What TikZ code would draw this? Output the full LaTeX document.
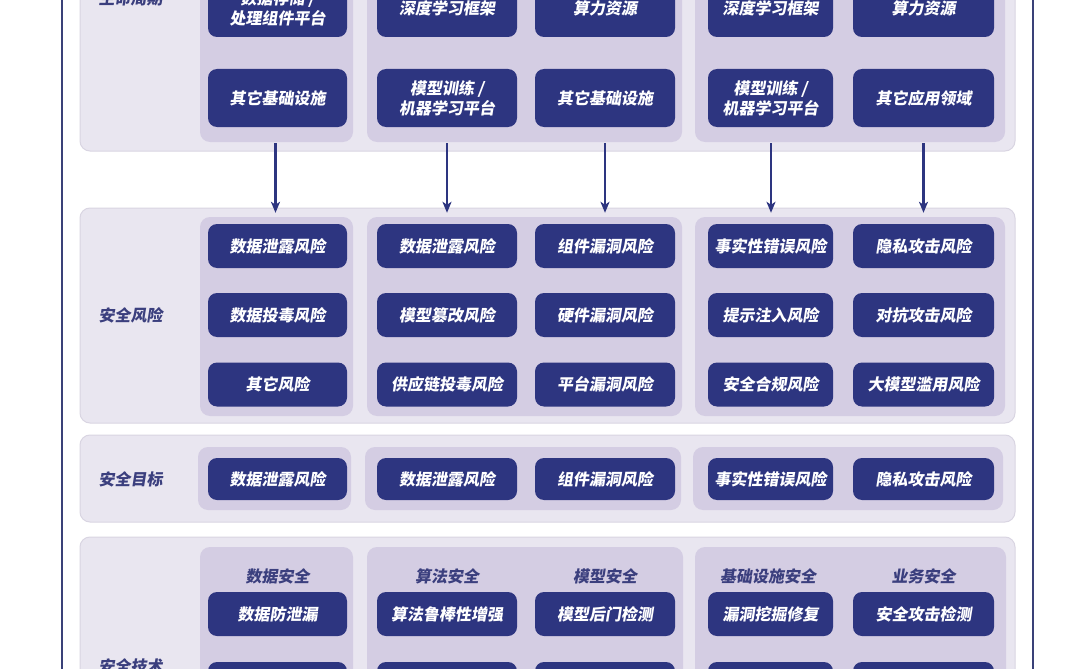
\documentclass[tikz,border=0pt]{standalone}
\usepackage{fontspec}
\setmainfont{Noto Sans CJK SC}[FakeSlant=0.16]
\usetikzlibrary{arrows.meta}
\definecolor{navy}{HTML}{2D3580}
\definecolor{bandfill}{HTML}{E9E6F0}
\definecolor{bandline}{HTML}{D9D5E2}
\definecolor{colfill}{HTML}{D4CDE3}
\definecolor{labtext}{HTML}{3B3F7E}
\definecolor{framecol}{HTML}{3A4178}
\tikzset{
  band/.style={fill=bandfill,draw=bandline,line width=1pt,rounded corners=10pt},
  colbox/.style={fill=colfill,draw=none,rounded corners=10pt},
  nd/.style={fill=navy,draw=none,rounded corners=9pt,text=white,align=center,
    font=\fontsize{16}{20}\selectfont\bfseries,inner sep=0pt},
  lab/.style={text=labtext,font=\fontsize{16}{20}\selectfont\bfseries,inner sep=0pt},
  arr/.style={draw=navy,line width=2.3pt,-{Stealth[length=11pt,width=9pt,inset=3pt]}}
}
\begin{document}
\begin{tikzpicture}[x=1pt,y=-1pt]
\useasboundingbox (0,0) rectangle (1080,669);
\clip (0,0) rectangle (1080,669);
\fill[white] (0,0) rectangle (1080,669);
% outer frame lines
\draw[framecol,line width=2pt] (62,-50) -- (62,720);
\draw[framecol,line width=2pt] (1033,-50) -- (1033,720);

% ---------- band 1 : lifecycle ----------
\draw[band] (80,-200) rectangle (1015,151);
\fill[colbox] (200,-190) rectangle (353,142);
\fill[colbox] (367,-190) rectangle (682,142);
\fill[colbox] (695,-190) rectangle (1005,142);
\node[lab] (l1) at (130.5,-2) {生命周期};
\node[nd,minimum width=139pt,minimum height=58pt] (a1) at (277.5,8) {数据存储 /\\处理组件平台};
\node[nd,minimum width=140pt,minimum height=58pt] (a2) at (447,8) {深度学习框架};
\node[nd,minimum width=140pt,minimum height=58pt] (a3) at (605,8) {算力资源};
\node[nd,minimum width=125pt,minimum height=58pt] (a4) at (770.5,8) {深度学习框架};
\node[nd,minimum width=141pt,minimum height=58pt] (a5) at (923.5,8) {算力资源};
\node[nd,minimum width=139pt,minimum height=58pt] (b1) at (277.5,98) {其它基础设施};
\node[nd,minimum width=140pt,minimum height=58pt] (b2) at (447,98) {模型训练 /\\机器学习平台};
\node[nd,minimum width=140pt,minimum height=58pt] (b3) at (605,98) {其它基础设施};
\node[nd,minimum width=125pt,minimum height=58pt] (b4) at (770.5,98) {模型训练 /\\机器学习平台};
\node[nd,minimum width=141pt,minimum height=58pt] (b5) at (923.5,98) {其它应用领域};

% ---------- band 2 : risks ----------
\draw[band] (80,208) rectangle (1015,423);
\fill[colbox] (200,217) rectangle (353,416);
\fill[colbox] (367,217) rectangle (682,416);
\fill[colbox] (695,217) rectangle (1005,416);
\node[lab] (l2) at (130.5,315) {安全风险};
\node[nd,minimum width=139pt,minimum height=44pt] (r11) at (277.5,246) {数据泄露风险};
\node[nd,minimum width=140pt,minimum height=44pt] (r12) at (447,246) {数据泄露风险};
\node[nd,minimum width=140pt,minimum height=44pt] (r13) at (605,246) {组件漏洞风险};
\node[nd,minimum width=125pt,minimum height=44pt] (r14) at (770.5,246) {事实性错误风险};
\node[nd,minimum width=141pt,minimum height=44pt] (r15) at (923.5,246) {隐私攻击风险};
\node[nd,minimum width=139pt,minimum height=44pt] (r21) at (277.5,315) {数据投毒风险};
\node[nd,minimum width=140pt,minimum height=44pt] (r22) at (447,315) {模型篡改风险};
\node[nd,minimum width=140pt,minimum height=44pt] (r23) at (605,315) {硬件漏洞风险};
\node[nd,minimum width=125pt,minimum height=44pt] (r24) at (770.5,315) {提示注入风险};
\node[nd,minimum width=141pt,minimum height=44pt] (r25) at (923.5,315) {对抗攻击风险};
\node[nd,minimum width=139pt,minimum height=44pt] (r31) at (277.5,384.5) {其它风险};
\node[nd,minimum width=140pt,minimum height=44pt] (r32) at (447,384.5) {供应链投毒风险};
\node[nd,minimum width=140pt,minimum height=44pt] (r33) at (605,384.5) {平台漏洞风险};
\node[nd,minimum width=125pt,minimum height=44pt] (r34) at (770.5,384.5) {安全合规风险};
\node[nd,minimum width=141pt,minimum height=44pt] (r35) at (923.5,384.5) {大模型滥用风险};

% arrows
\draw[arr] ([xshift=-2pt,yshift=-16pt]b1.south) -- ([xshift=-2pt,yshift=11pt]r11.north);
\draw[arr] ([yshift=-16pt]b2.south) -- ([yshift=11pt]r12.north);
\draw[arr] ([yshift=-16pt]b3.south) -- ([yshift=11pt]r13.north);
\draw[arr] ([xshift=0.5pt,yshift=-16pt]b4.south) -- ([xshift=0.5pt,yshift=11pt]r14.north);
\draw[arr] ([yshift=-16pt]b5.south) -- ([yshift=11pt]r15.north);

% ---------- band 3 : goals ----------
\draw[band] (80,435) rectangle (1015,522);
\fill[colbox] (198,447) rectangle (351,510);
\fill[colbox] (365,447) rectangle (681,510);
\fill[colbox] (693,447) rectangle (1003,510);
\node[lab] (l3) at (130.5,479) {安全目标};
\node[nd,minimum width=139pt,minimum height=42pt] (g1) at (277.5,479) {数据泄露风险};
\node[nd,minimum width=140pt,minimum height=42pt] (g2) at (447,479) {数据泄露风险};
\node[nd,minimum width=140pt,minimum height=42pt] (g3) at (605,479) {组件漏洞风险};
\node[nd,minimum width=125pt,minimum height=42pt] (g4) at (770.5,479) {事实性错误风险};
\node[nd,minimum width=141pt,minimum height=42pt] (g5) at (923.5,479) {隐私攻击风险};

% ---------- band 4 : techniques ----------
\draw[band] (80,537) rectangle (1015,900);
\fill[colbox] (200,547) rectangle (353,890);
\fill[colbox] (367,547) rectangle (683,890);
\fill[colbox] (695,547) rectangle (1006,890);
\node[lab] (l4) at (130.5,666) {安全技术};
\node[lab] (h1) at (277.5,576) {数据安全};
\node[lab] (h2) at (447,576) {算法安全};
\node[lab] (h3) at (605,576) {模型安全};
\node[lab] (h4) at (768,576) {基础设施安全};
\node[lab] (h5) at (923.5,576) {业务安全};
\node[nd,minimum width=139pt,minimum height=44pt] (t11) at (277.5,614) {数据防泄漏};
\node[nd,minimum width=140pt,minimum height=44pt] (t12) at (447,614) {算法鲁棒性增强};
\node[nd,minimum width=140pt,minimum height=44pt] (t13) at (605,614) {模型后门检测};
\node[nd,minimum width=125pt,minimum height=44pt] (t14) at (770.5,614) {漏洞挖掘修复};
\node[nd,minimum width=141pt,minimum height=44pt] (t15) at (923.5,614) {安全攻击检测};
\node[nd,minimum width=139pt,minimum height=44pt] (t21) at (277.5,684) {};
\node[nd,minimum width=140pt,minimum height=44pt] (t22) at (447,684) {};
\node[nd,minimum width=140pt,minimum height=44pt] (t23) at (605,684) {};
\node[nd,minimum width=125pt,minimum height=44pt] (t24) at (770.5,684) {};
\node[nd,minimum width=141pt,minimum height=44pt] (t25) at (923.5,684) {};
\end{tikzpicture}
\end{document}
